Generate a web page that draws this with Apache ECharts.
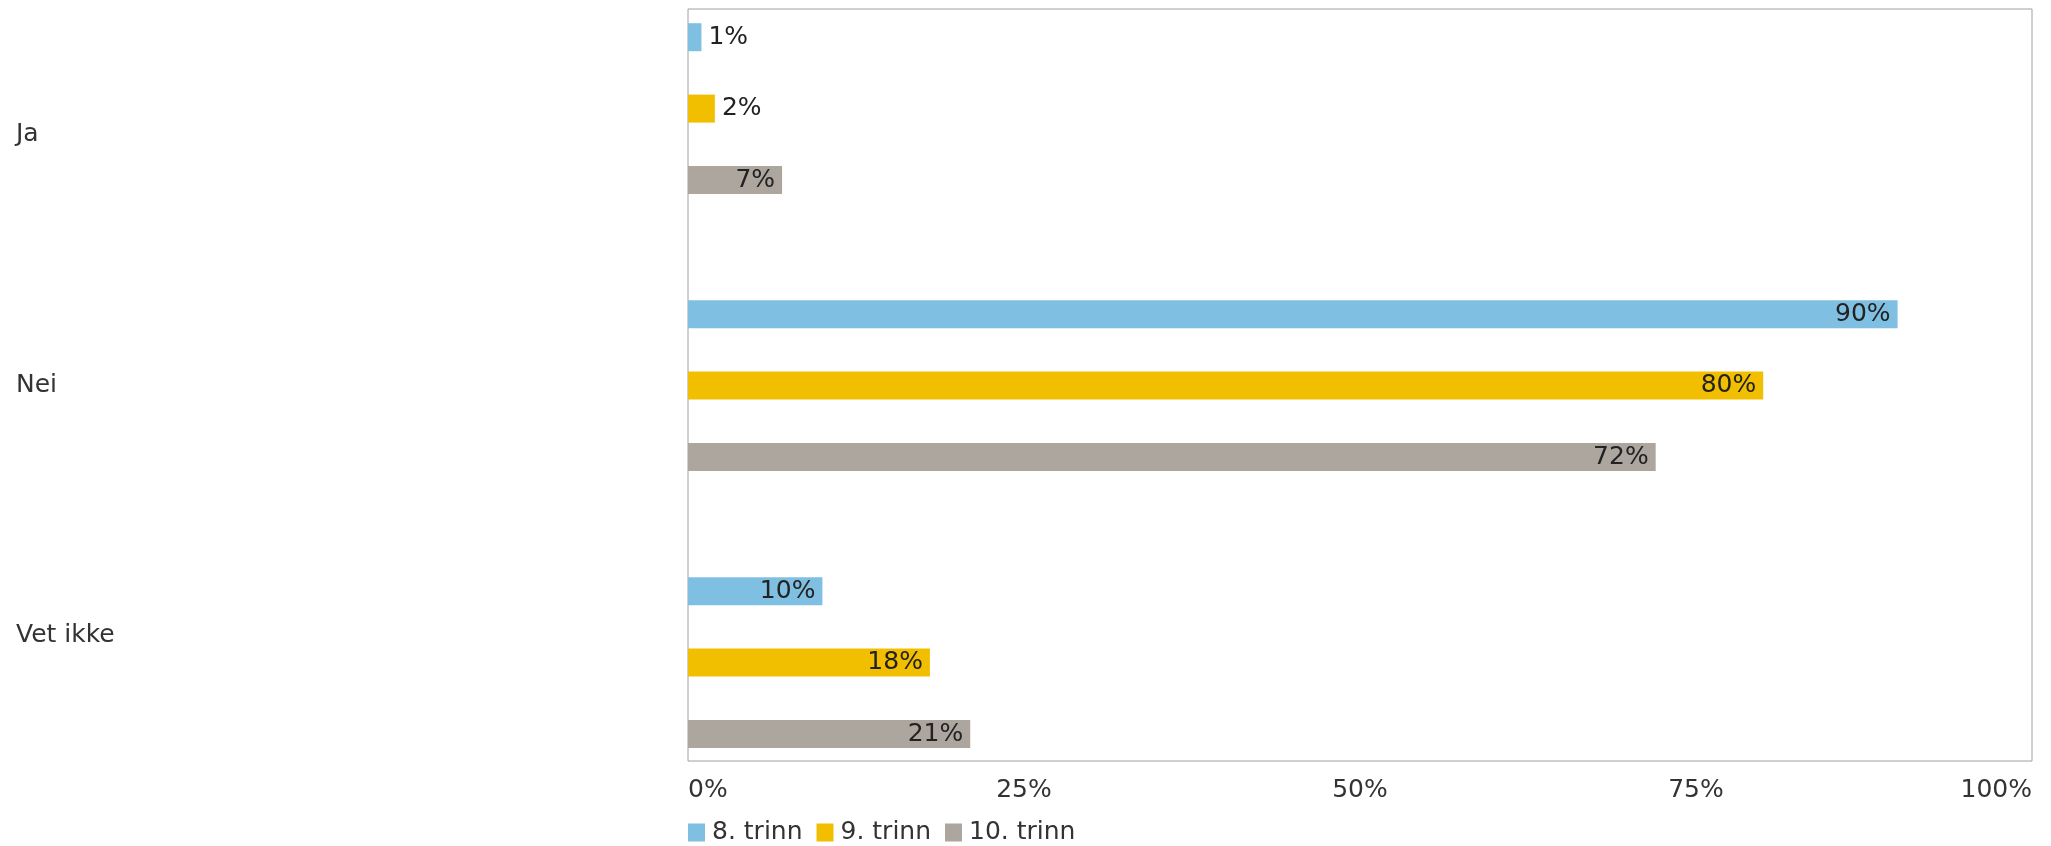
<!DOCTYPE html>
<html>
<head>
<meta charset="utf-8">
<script src="https://cdn.jsdelivr.net/npm/echarts@6/dist/echarts.min.js"></script>
<style>html,body{margin:0;padding:0;background:#fff}#c{width:2051px;height:846px}</style>
</head>
<body>
<div id="c"></div>
<script>
var categories = ['Ja', 'Nei', 'Vet ikke'];
var seriesNames = ['8. trinn', '9. trinn', '10. trinn'];
var trinn8 = [1, 90, 10];
var trinn9 = [2, 80, 18];
var trinn10 = [7, 72, 21];
var xTicks = [0, 25, 50, 75, 100];

var colors = ['#7fbfe2', '#f1bf00', '#aca69f'];
var FONT = 'DejaVu Sans';
var FS = 25;

function makeData(vals) {
  return vals.map(function (v) {
    return {
      value: v,
      label: { position: v < 5 ? 'right' : 'insideRight' }
    };
  });
}

var valuesList = [trinn8, trinn9, trinn10];
var series = valuesList.map(function (vals, i) {
  return {
    name: seriesNames[i],
    type: 'bar',
    xAxisIndex: 1,
    yAxisIndex: 1,
    barWidth: 28,
    barGap: '155%',
    itemStyle: { color: colors[i] },
    label: {
      show: true,
      distance: 7,
      formatter: '{c}%',
      color: '#222',
      fontFamily: FONT,
      fontSize: FS
    },
    data: makeData(vals)
  };
});

var chart = echarts.init(document.getElementById('c'));
chart.setOption({
  animation: false,
  backgroundColor: '#fff',
  textStyle: { fontFamily: FONT },
  color: colors,
  legend: {
    left: 688,
    top: 820,
    padding: 0,
    itemWidth: 17,
    itemHeight: 18,
    itemGap: 14,
    icon: 'rect',
    textStyle: { fontFamily: FONT, fontSize: FS, color: '#333', padding: [0, 0, 0, 2] },
    data: seriesNames
  },
  grid: [
    { left: 688, right: 19, top: 9, bottom: 85, show: true, borderColor: '#a0a0a0', borderWidth: 1, backgroundColor: 'transparent' },
    { left: 688, right: 19, top: 108.6, bottom: 183.4 }
  ],
  xAxis: [
    {
      gridIndex: 0, type: 'value', min: xTicks[0], max: xTicks[xTicks.length - 1], interval: 25,
      axisLine: { show: false }, axisTick: { show: false }, splitLine: { show: false },
      axisLabel: {
        formatter: '{value}%', fontFamily: FONT, fontSize: FS, color: '#333', margin: 17,
        alignMinLabel: 'left', alignMaxLabel: 'right'
      }
    },
    {
      gridIndex: 1, type: 'value', min: 0, max: 100, show: false
    }
  ],
  yAxis: [
    {
      gridIndex: 0, type: 'category', data: categories, inverse: true,
      axisLine: { show: false }, axisTick: { show: false }, splitLine: { show: false },
      axisLabel: { align: 'left', margin: 672, fontFamily: FONT, fontSize: FS, color: '#333' }
    },
    {
      gridIndex: 1, type: 'category', data: categories, inverse: true, boundaryGap: false, show: false
    }
  ],
  series: series
});
</script>
</body>
</html>
